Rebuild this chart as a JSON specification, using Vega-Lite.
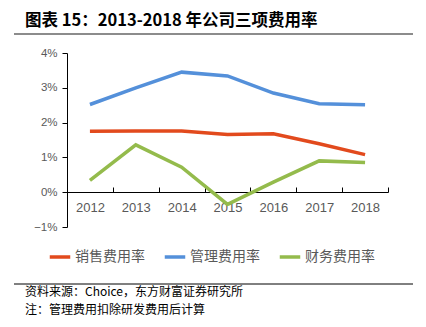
{
  "$schema": "https://vega.github.io/schema/vega-lite/v6.json",
  "width": 321,
  "height": 174,
  "autosize": "none",
  "padding": {"left": 67, "top": 53, "right": 38, "bottom": 100},
  "background": "white",
  "config": {"view": {"stroke": null}, "font": "Noto Sans CJK SC"},
  "datasets": {
    "series": [
      {"year": "2012", "type": "销售费用率", "v": 0.0175},
      {"year": "2013", "type": "销售费用率", "v": 0.0176},
      {"year": "2014", "type": "销售费用率", "v": 0.0176},
      {"year": "2015", "type": "销售费用率", "v": 0.0166},
      {"year": "2016", "type": "销售费用率", "v": 0.0168},
      {"year": "2017", "type": "销售费用率", "v": 0.0139},
      {"year": "2018", "type": "销售费用率", "v": 0.0108},
      {"year": "2012", "type": "管理费用率", "v": 0.0252},
      {"year": "2013", "type": "管理费用率", "v": 0.0300},
      {"year": "2014", "type": "管理费用率", "v": 0.0345},
      {"year": "2015", "type": "管理费用率", "v": 0.0334},
      {"year": "2016", "type": "管理费用率", "v": 0.0285},
      {"year": "2017", "type": "管理费用率", "v": 0.0254},
      {"year": "2018", "type": "管理费用率", "v": 0.0251},
      {"year": "2012", "type": "财务费用率", "v": 0.0034},
      {"year": "2013", "type": "财务费用率", "v": 0.0136},
      {"year": "2014", "type": "财务费用率", "v": 0.0072},
      {"year": "2015", "type": "财务费用率", "v": -0.0035},
      {"year": "2016", "type": "财务费用率", "v": 0.0029},
      {"year": "2017", "type": "财务费用率", "v": 0.0090},
      {"year": "2018", "type": "财务费用率", "v": 0.0085}
    ],
    "notes": [
      {"k": "title", "t": "图表 15：2013-2018 年公司三项费用率"},
      {"k": "src", "t": "资料来源：Choice，东方财富证券研究所"},
      {"k": "note", "t": "注：管理费用扣除研发费用后计算"}
    ]
  },
  "layer": [
    {
      "data": {"name": "series"},
      "mark": {"type": "line", "strokeWidth": 3.5, "strokeCap": "butt", "clip": false},
      "encoding": {
        "x": {
          "field": "year", "type": "ordinal", "bandPosition": 0.5,
          "scale": {"type": "band", "paddingInner": 0, "paddingOuter": 0},
          "axis": {
            "title": null, "labelAngle": 0, "offset": -35, "tickBand": "extent",
            "domainColor": "#000000", "domainWidth": 1, "tickColor": "#000000", "tickSize": -5,
            "labelPadding": 14, "labelFont": "Liberation Sans", "labelFontSize": 13, "labelColor": "#595959"
          }
        },
        "y": {
          "field": "v", "type": "quantitative",
          "scale": {"domain": [-0.01, 0.04], "nice": false, "zero": false},
          "axis": {
            "title": null, "values": [-0.01, 0, 0.01, 0.02, 0.03, 0.04], "format": ".0%", "grid": false,
            "domainColor": "#000000", "tickColor": "#000000", "tickSize": 5, "labelPadding": 5,
            "labelFont": "Liberation Sans", "labelFontSize": 11.5, "labelColor": "#595959"
          }
        },
        "color": {
          "field": "type", "type": "nominal",
          "scale": {"domain": ["销售费用率", "管理费用率", "财务费用率"], "range": ["#E24A1D", "#5490DA", "#94BB4C"]},
          "legend": {
            "title": null, "orient": "none", "direction": "horizontal", "legendX": -19, "legendY": 192,
            "symbolType": "stroke", "symbolSize": 420, "symbolStrokeWidth": 3.5,
            "labelFontSize": 14, "labelColor": "#595959", "labelOffset": 3, "columnPadding": 12
          }
        }
      }
    },
    {
      "data": {"name": "notes"},
      "transform": [{"filter": "datum.k == 'title'"}],
      "mark": {"type": "text", "align": "left", "baseline": "alphabetic", "fontSize": 16.5, "fontWeight": "bold", "color": "#000000"},
      "encoding": {"text": {"field": "t"}, "x": {"value": -42}, "y": {"value": -27}}
    },
    {
      "data": {"name": "notes"},
      "transform": [{"filter": "datum.k == 'src'"}],
      "mark": {"type": "text", "align": "left", "baseline": "alphabetic", "fontSize": 12, "color": "#000000"},
      "encoding": {"text": {"field": "t"}, "x": {"value": -42}, "y": {"value": 243}}
    },
    {
      "data": {"name": "notes"},
      "transform": [{"filter": "datum.k == 'note'"}],
      "mark": {"type": "text", "align": "left", "baseline": "alphabetic", "fontSize": 12, "color": "#000000"},
      "encoding": {"text": {"field": "t"}, "x": {"value": -42}, "y": {"value": 261}}
    },
    {
      "data": {"values": [{}]},
      "mark": {"type": "rule", "stroke": "#8c8c8c", "strokeWidth": 2},
      "encoding": {"x": {"value": -53}, "x2": {"value": 346}, "y": {"value": -19}}
    },
    {
      "data": {"values": [{}]},
      "mark": {"type": "rule", "stroke": "#000000", "strokeWidth": 1},
      "encoding": {"x": {"value": -53}, "x2": {"value": 346}, "y": {"value": 231}}
    }
  ]
}
